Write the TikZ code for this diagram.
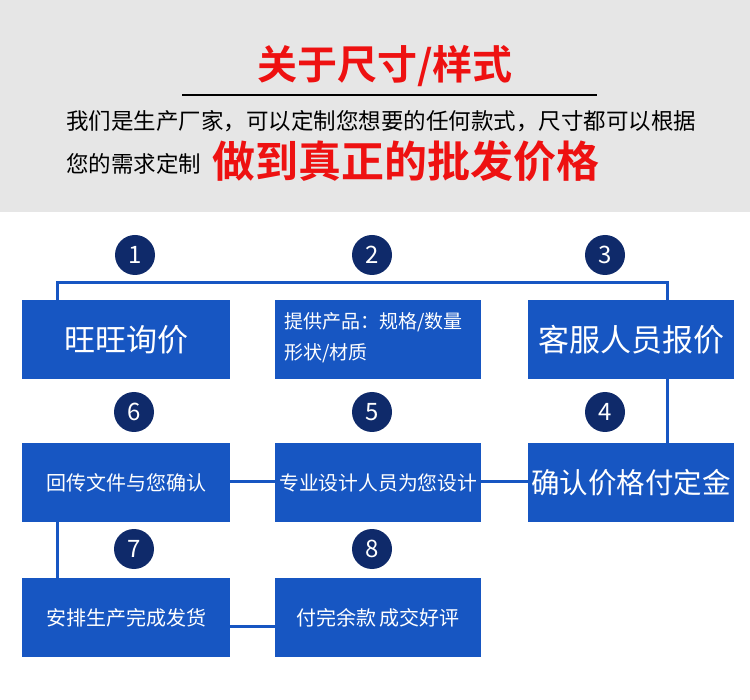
\documentclass[tikz,border=0pt]{standalone}
\usepackage{fontspec}
\newfontfamily\cjk{Noto Sans CJK SC}
\newfontfamily\cjkb{Noto Sans CJK SC Bold}
\setmainfont{Noto Sans CJK SC}
\definecolor{boxblue}{HTML}{1756C2}
\definecolor{navy}{HTML}{0F2A6A}
\definecolor{band}{HTML}{E6E6E6}
\definecolor{tred}{HTML}{EE1111}
\begin{document}
\begin{tikzpicture}[x=1pt,y=-1pt,
  bx/.style={fill=boxblue,minimum width=208pt,minimum height=79pt,inner sep=0pt,text=white,anchor=north west},
  num/.style={circle,fill=navy,minimum size=40pt,inner sep=0pt,text=white,font=\cjk\fontsize{24}{24}\selectfont},
  ln/.style={boxblue,line width=3pt}]
\useasboundingbox (0,0) rectangle (750,700);
\fill[white] (0,0) rectangle (750,700);
\fill[band] (0,0) rectangle (750,212);
\node[text=tred,font=\cjkb\fontsize{40}{40}\selectfont] (title) at (385,66) {关于尺寸/样式};
\coordinate (ula) at (182,95); \coordinate (ulb) at (597,95);
\draw[black,line width=1.3pt] (ula) -- (ulb);
\node[anchor=west,inner sep=0pt,font=\cjk\fontsize{22.5}{22.5}\selectfont] (l1) at (66,121) {我们是生产厂家，可以定制您想要的任何款式，尺寸都可以根据};
\node[anchor=west,inner sep=0pt,font=\cjk\fontsize{22.5}{22.5}\selectfont] (l2) at (66,164) {您的需求定制};
\node[anchor=west,inner sep=0pt,text=tred,font=\cjkb\fontsize{43}{43}\selectfont] (l3) at (212,161) {做到真正的批发价格};
% connectors
\coordinate (ta) at (57,283); \coordinate (tb) at (667,283);
\draw[ln] (57,301) -- (ta) -- (tb) -- (667,301);
\draw[ln] (667,379) -- (667,444);
\draw[ln] (230,482) -- (529,482);
\draw[ln] (57,520) -- (57,579);
\draw[ln] (230,626) -- (276,626);
% boxes
\node[bx,font=\cjk\fontsize{31}{31}\selectfont] (b1) at (22,300) {旺旺询价};
\node[bx,minimum width=206pt,font=\cjk\fontsize{19}{30}\selectfont] (b2) at (275,300) {};
\node[anchor=north west,inner sep=0pt,text=white,align=left,font=\cjk\fontsize{19}{31}\selectfont] (b2t) at (284,312) {提供产品：规格/数量\\形状/材质};
\node[bx,minimum width=206pt,font=\cjk\fontsize{31}{31}\selectfont] (b3) at (528,300) {客服人员报价};
\node[bx,font=\cjk\fontsize{20}{20}\selectfont] (b6) at (22,443) {回传文件与您确认};
\node[bx,minimum width=206pt,font=\cjk\fontsize{19.8}{20}\selectfont] (b5) at (275,443) {专业设计人员为您设计};
\node[bx,minimum width=206pt,font=\cjk\fontsize{28.5}{28}\selectfont] (b4) at (528,443) {确认价格付定金};
\node[bx,font=\cjk\fontsize{20}{20}\selectfont] (b7) at (22,578) {安排生产完成发货};
\node[bx,minimum width=206pt,font=\cjk\fontsize{20}{20}\selectfont] (b8) at (275,578) {付完余款\,成交好评};
% numbers
\node[num] (n1) at (135,255) {1};
\node[num] (n2) at (372,255) {2};
\node[num] (n3) at (605,255) {3};
\node[num] (n6) at (134,412) {6};
\node[num] (n5) at (372,412) {5};
\node[num] (n4) at (605,412) {4};
\node[num] (n7) at (134,549) {7};
\node[num] (n8) at (372,549) {8};
\end{tikzpicture}
\end{document}
